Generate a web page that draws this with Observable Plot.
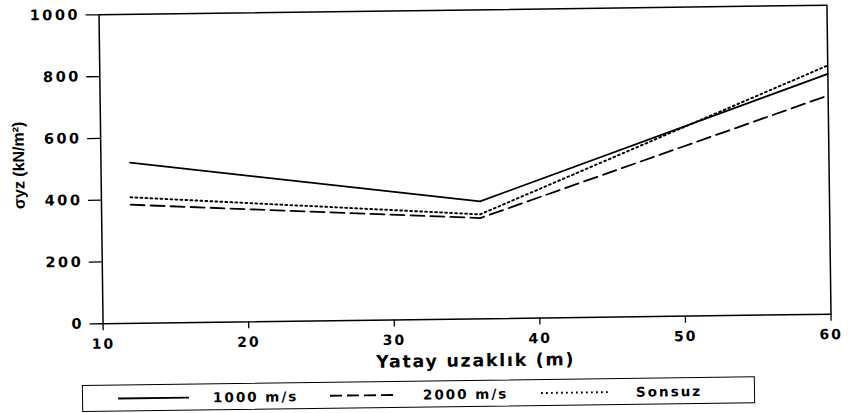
<!DOCTYPE html>
<html><head><meta charset="utf-8">
<script src="https://cdn.jsdelivr.net/npm/d3@7"></script>
<script src="https://cdn.jsdelivr.net/npm/@observablehq/plot@0.6"></script>
<style>
body{margin:0;background:#fff;font-family:"DejaVu Sans",sans-serif;overflow:hidden;}
#wrap{position:relative;width:853px;height:413px;transform:rotate(-0.75deg);transform-origin:464.5px 164px;}
#chart svg{font-family:"DejaVu Sans",sans-serif;font-weight:bold;}
#chart g[aria-label="y-axis tick label"] text{font-size:14.5px !important;letter-spacing:2.5px;}
#chart g[aria-label="x-axis tick label"] text{font-size:14px !important;letter-spacing:2px;}
#legend{position:absolute;left:79px;top:380px;width:673px;height:27px;border:1.3px solid #000;box-sizing:border-box;font-weight:bold;font-size:13.5px;letter-spacing:2px;}
#legend .it{position:absolute;top:0;height:25px;display:flex;align-items:center;white-space:nowrap;}
</style></head>
<body><div id="wrap"><div id="chart"></div><div id="legend"></div></div>
<script>
const xs = [12, 36, 60];
const seriesNames = ["1000 m/s", "2000 m/s", "Sonsuz"];
const v1000 = [520, 380, 778];
const v2000 = [384, 326, 708];
const vSonsuz = [408, 338, 805];
const xTicks = [10, 20, 30, 40, 50, 60];
const yTicks = [0, 200, 400, 600, 800, 1000];
const xLabel = "Yatay uzaklık (m)";
const yLabel = "σyz (kN/m²)";
const dashes = {"1000 m/s": null, "2000 m/s": "14,6", "Sonsuz": "1.8,3.2"};

const rows = [];
[v1000, v2000, vSonsuz].forEach((vals, i) => {
  vals.forEach((v, j) => rows.push({series: seriesNames[i], x: xs[j], y: v}));
});

const marks = [Plot.frame({stroke: "#000", strokeWidth: 1.5})];
for (const s of seriesNames) {
  marks.push(Plot.line(rows.filter(d => d.series === s), {
    x: "x", y: "y", stroke: "#000", strokeWidth: s === "Sonsuz" ? 1.9 : 1.8,
    strokeDasharray: dashes[s]
  }));
}
marks.push(Plot.axisY({ticks: yTicks, tickSize: 13, tickPadding: 6, strokeWidth: 1.3,
  tickFormat: d => String(d), label: null}));
marks.push(Plot.axisX({ticks: xTicks, tickSize: 7, tickPadding: 8, strokeWidth: 1.3,
  tickFormat: d => String(d), label: null}));
marks.push(Plot.text([xLabel], {frameAnchor: "bottom", text: d => d, dy: 42, dx: 8,
  textAnchor: "middle", lineAnchor: "middle",
  fontSize: 17.5, fontWeight: "bold", fill: "#000"}));
marks.push(Plot.text([yLabel], {frameAnchor: "left", text: d => d, rotate: -90, dx: -82, dy: -5,
  textAnchor: "middle", lineAnchor: "middle",
  fontSize: 16, fontWeight: "bold", fill: "#000", fontFamily: "Liberation Sans, Arial, sans-serif"}));

const chart = Plot.plot({
  width: 853, height: 372,
  marginLeft: 100.5, marginRight: 24.5, marginTop: 9.5, marginBottom: 53.5,
  x: {domain: [10, 60]},
  y: {domain: [0, 1000]},
  style: {background: "#fff", color: "#000"},
  marks
});
document.getElementById("chart").appendChild(chart);
chart.querySelectorAll("text").forEach(t => {
  if (t.textContent === xLabel) t.style.letterSpacing = "1.7px";
});

const legend = document.getElementById("legend");
const items = [
  {x: 35, w: 71, tx: 130},
  {x: 247, w: 66, tx: 340},
  {x: 458, w: 67, tx: 553}
];
seriesNames.forEach((s, i) => {
  const it = items[i];
  const sw = document.createElement("div");
  sw.className = "it"; sw.style.left = it.x + "px";
  const da = s === "2000 m/s" ? "12,5" : dashes[s];
  sw.innerHTML = `<svg width="${it.w}" height="25"><line x1="0" x2="${it.w}" y1="13" y2="13" stroke="#000" stroke-width="1.9" ${da ? `stroke-dasharray="${da}"` : ""}/></svg>`;
  legend.appendChild(sw);
  const t = document.createElement("div");
  t.className = "it"; t.style.left = it.tx + "px"; t.textContent = s;
  legend.appendChild(t);
});
</script></body></html>
